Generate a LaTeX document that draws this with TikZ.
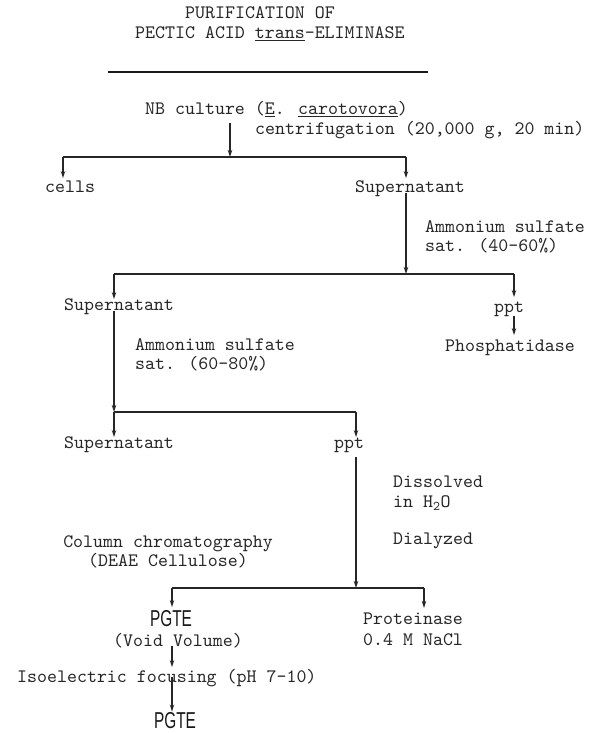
\documentclass[tikz,border=0pt]{standalone}
\usepackage{fontspec}
\usepackage{graphicx}
\newfontfamily\pgtefont{Liberation Sans}
\newfontfamily\twfont[Extension=.otf]{lmmono10-regular}
\usetikzlibrary{arrows.meta,calc}
\begin{document}
\begin{tikzpicture}[x=1pt,y=-1pt,
  lbl/.style={inner sep=0pt, text height=11.5pt, text depth=0pt, anchor=west,
    font=\twfont\fontsize{19}{19}\selectfont, text=black!85},
  mlbl/.style={inner sep=0pt, anchor=base west, align=left,
    font=\twfont\fontsize{19}{19}\selectfont, text=black!85},
  conn/.style={line width=1.2pt, draw=black!85},
  arr/.style={conn, -{Stealth[length=7pt,width=4.5pt]}},
  pgte/.style={inner sep=0pt, text height=16.5pt, text depth=0pt, anchor=center,
    font=\pgtefont\fontsize{23}{23}\selectfont, text=black!90},
  rulebar/.style={line width=2.5pt, draw=black!90}
]
\useasboundingbox (0,0) rectangle (598,733);

% title
\node[lbl] (t1) at (185,13) {PURIFICATION OF};
\node[lbl] (t2) at (135,33) {PECTIC ACID \underline{trans}-ELIMINASE};
\coordinate (rl) at (108,72);
\coordinate (rr) at (428,72);
\draw[rulebar] (rl) -- (rr);

% first split
\node[lbl] (nb) at (145,109) {NB culture (\underline{E}. \underline{carotovora})};
\node[lbl] (cent) at (255,129) {centrifugation (20,000 g, 20 min)};
\coordinate (j1) at (230,157);
\coordinate (l1) at (63,157);
\coordinate (r1) at (406,157);
\node[lbl] (cells) at (45,187) {cells};
\node[lbl] (sup1) at (355,187) {Supernatant};
\draw[arr] ($(nb.south -| j1)+(0,8)$) -- (j1);
\draw[conn] (l1) -- (r1);
\draw[arr, shorten >=3pt] (l1) -- (l1 |- cells.north);
\draw[arr, shorten >=3pt] (r1) -- (r1 |- sup1.north);

% second split
\coordinate (j2) at (406,274);
\coordinate (l2) at (114,274);
\coordinate (r2) at (514,274);
\node[mlbl] (am1) at (425,251.75) {Ammonium sulfate\\sat. (40-60\%)};
\draw[arr] (sup1.south -| j2) -- (j2);
\draw[conn] (l2) -- (r2);
\node[lbl] (sup2) at (64,305) {Supernatant};
\node[lbl] (ppt1) at (494,307) {ppt};
\node[lbl] (phos) at (445,346) {Phosphatidase};
\draw[arr] (l2) -- (l2 |- sup2.north);
\draw[arr, shorten >=4pt] (r2) -- (r2 |- ppt1.north);
\draw[arr, shorten >=5pt] ($(ppt1.south -| r2)+(0,3)$) -- (r2 |- phos.north);

% third split
\coordinate (j3) at (114,412);
\coordinate (r3) at (356,412);
\node[mlbl] (am2) at (135,369.75) {Ammonium sulfate\\sat. (60-80\%)};
\draw[arr] (sup2.south -| j3) -- (j3);
\draw[conn] (j3) -- (r3);
\node[lbl] (sup3) at (64,443) {Supernatant};
\node[lbl] (ppt2) at (334,443) {ppt};
\draw[arr] (j3) -- (j3 |- sup3.north);
\draw[arr] (r3) -- (r3 |- ppt2.north);

% fourth split
\coordinate (j4) at (356,588);
\coordinate (l4) at (172,588);
\coordinate (r4) at (424,588);
\node[mlbl, font=\twfont\fontsize{19}{20}\selectfont] (diss) at (393,507.75) {Dissolved\\in H\textsubscript{2}O};
\node[lbl] (dial) at (393,539) {Dialyzed};
\node[mlbl, align=center, anchor=base] (col) at (168,566.75) {Column chromatography\\(DEAE Cellulose)};
\draw[arr] ($(ppt2.south -| j4)+(0,8)$) -- (j4);
\draw[conn] (l4) -- (r4);
\node[pgte] (pg1) at (171,618.5) {\scalebox{0.67}[1]{PGTE}};
\node[lbl, anchor=center] (void) at (178,640.5) {(Void Volume)};
\node[mlbl, font=\twfont\fontsize{19}{21}\selectfont] (prot) at (363,645.75) {Proteinase\\0.4 M NaCl};
\draw[arr, shorten >=3pt] (l4) -- (l4 |- pg1.north);
\draw[arr, shorten >=5pt] (r4) -- (r4 |- prot.north);

% final steps
\node[lbl] (iso) at (17,677) {Isoelectric focusing (pH 7-10)};
\node[pgte] (pg2) at (175,720) {\scalebox{0.67}[1]{PGTE}};
\draw[arr, shorten >=4pt] (void.south -| l4) -- (iso.north -| l4);
\draw[arr] (iso.center -| l4) -- (l4 |- pg2.north);
\end{tikzpicture}
\end{document}
